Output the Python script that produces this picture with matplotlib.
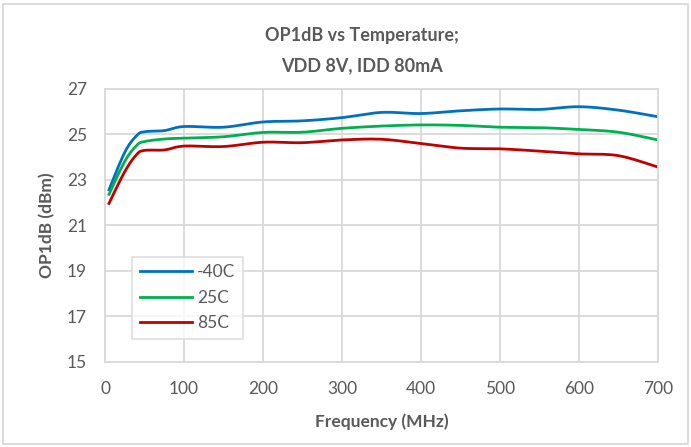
import numpy as np
import matplotlib.pyplot as plt
from matplotlib.patches import Rectangle

# data
freq = [5, 25, 40, 50, 75, 100, 150, 200, 250, 300, 350, 400, 450, 500, 550, 600, 650, 700]
op1db_m40 = [22.55, 24.2, 24.93, 25.1, 25.15, 25.33, 25.3, 25.53, 25.58, 25.72, 25.95, 25.9, 26.02, 26.1, 26.08, 26.2, 26.05, 25.76]
op1db_25 = [22.35, 23.8, 24.5, 24.67, 24.78, 24.82, 24.88, 25.07, 25.08, 25.25, 25.35, 25.4, 25.38, 25.3, 25.28, 25.2, 25.08, 24.74]
op1db_85 = [21.95, 23.35, 24.1, 24.28, 24.3, 24.47, 24.45, 24.64, 24.62, 24.74, 24.77, 24.58, 24.38, 24.35, 24.25, 24.13, 24.05, 23.55]
labels = ['-40C', '25C', '85C']
colors = ['#0070C0', '#00B050', '#C00000']

grey = '#595959'
gridc = '#D9D9D9'
plt.rcParams['font.family'] = ['Lato', 'DejaVu Sans']


def smooth(x, y, n=20):
    # excel-like smoothed line (bezier through the points)
    x = np.asarray(x, float)
    y = np.asarray(y, float)
    px = np.concatenate([[x[0]], x, [x[-1]]])
    py = np.concatenate([[y[0]], y, [y[-1]]])
    xs, ys = [], []
    t = np.linspace(0, 1, n)
    for i in range(1, len(px) - 2):
        p0 = np.array([px[i], py[i]])
        p3 = np.array([px[i + 1], py[i + 1]])
        p1 = p0 + (p3 - np.array([px[i - 1], py[i - 1]])) / 6
        p2 = p3 - (np.array([px[i + 2], py[i + 2]]) - p0) / 6
        b = ((1 - t) ** 3)[:, None] * p0 + (3 * (1 - t) ** 2 * t)[:, None] * p1 \
            + (3 * (1 - t) * t ** 2)[:, None] * p2 + (t ** 3)[:, None] * p3
        xs.extend(b[:, 0])
        ys.extend(b[:, 1])
    return xs, ys


fig = plt.figure(figsize=(6.91, 4.47), dpi=100)
ax = fig.add_axes([0.152, 0.191, 0.800, 0.611])

for yv, lab, c in zip([op1db_m40, op1db_25, op1db_85], labels, colors):
    sx, sy = smooth(freq, yv)
    ax.plot(sx, sy, color=c, lw=2, label=lab)

ax.set_xlim(0, 700)
ax.set_ylim(15, 27)
ax.set_xticks(np.arange(0, 701, 100))
ax.set_yticks(np.arange(15, 28, 2))
ax.grid(True, color=gridc, lw=1.3)
ax.set_axisbelow(True)
ax.tick_params(axis='x', length=0, colors=grey, labelsize=12.5, pad=14)
ax.tick_params(axis='y', length=0, colors=grey, labelsize=12.5, pad=13)
for s in ax.spines.values():
    s.set_color(gridc)
    s.set_linewidth(1.3)

ax.set_xlabel('Frequency (MHz)', fontsize=12.5, fontweight='bold', color=grey, labelpad=12)
ax.set_ylabel('OP1dB (dBm)', fontsize=12.5, fontweight='bold', color=grey, labelpad=8)

fig.text(0.524, 0.92, 'OP1dB vs Temperature;', ha='center', va='center',
         fontsize=13, fontweight='bold', color=grey)
fig.text(0.524, 0.853, 'VDD 8V, IDD 80mA', ha='center', va='center',
         fontsize=13, fontweight='bold', color=grey)

leg = ax.legend(loc='lower left', bbox_to_anchor=(0.049, 0.082), borderaxespad=0,
                frameon=True, fancybox=False, fontsize=12.5, handlelength=3.0,
                handletextpad=0.3, labelspacing=0.55, borderpad=0.45)
leg.get_frame().set_edgecolor(gridc)
leg.get_frame().set_linewidth(1.3)
for t in leg.get_texts():
    t.set_color(grey)

fig.patches.append(Rectangle((0.005, 0.007), 0.99, 0.985, transform=fig.transFigure,
                             fill=False, edgecolor=gridc, lw=1.3))

fig.savefig('out.png', dpi=100)
